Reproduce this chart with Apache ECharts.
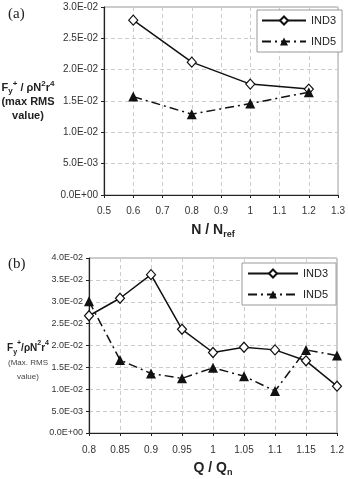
<!DOCTYPE html>
<html>
<head>
<meta charset="utf-8">
<script src="https://cdn.jsdelivr.net/npm/echarts@6/dist/echarts.min.js"></script>
<style>
  html, body { margin: 0; padding: 0; background: #fff; }
  #chart { width: 348px; height: 479px; }
</style>
</head>
<body>
<div id="chart"></div>
<script>
// (a) 转速比
const nRatio = [0.6, 0.8, 1.0, 1.2]
const aInd3 = [0.0279, 0.0212, 0.0177, 0.0169]
const aInd5 = [0.0157, 0.0129, 0.0146, 0.0164]

// (b) 流量比
const qRatio = ['0.8', '0.85', '0.9', '0.95', '1', '1.05', '1.1', '1.15', '1.2']
const bInd3 = [0.0268, 0.0308, 0.0362, 0.0237, 0.0184, 0.0196, 0.0190, 0.0165, 0.0107]
const bInd5 = [0.0301, 0.0167, 0.0136, 0.0125, 0.0149, 0.0130, 0.0096, 0.0190, 0.0177]

const font = 'Liberation Sans, Arial, sans-serif'

// 科学计数法标签 3.0E-02
const sciFmt = v => {
  const s = Number(v).toExponential(1).toUpperCase()
  return s.replace(/E([+-])(\d)$/, 'E$10$2')
}

const ind3Style = {
  type: 'line',
  symbol: 'diamond',
  symbolSize: [9, 10],
  lineStyle: {color: '#111', width: 1.5, type: 'solid'},
  itemStyle: {color: '#fff', borderColor: '#111', borderWidth: 1.2},
  z: 3
}
const ind5Style = {
  type: 'line',
  symbol: 'triangle',
  symbolSize: 10,
  lineStyle: {color: '#111', width: 1.5, type: [9, 4, 2, 4]},
  itemStyle: {color: '#111'},
  z: 4
}

const labelColor = '#333'
const splitLine = {show: true, lineStyle: {color: '#ccc', type: [4, 3]}}
const axisLine = {show: true, lineStyle: {color: '#222', width: 1.2}}
const axisTick = {show: true, length: 3, lineStyle: {color: '#222'}}

const legendBase = {
  orient: 'vertical',
  backgroundColor: '#fff',
  borderColor: '#999',
  borderWidth: 1,
  itemHeight: 10,
  itemGap: 10,
  textStyle: {color: '#222', fontSize: 11, fontFamily: font},
  data: ['IND3', 'IND5']
}

const chart = echarts.init(document.getElementById('chart'))
chart.setOption({
  animation: false,
  grid: [
    {left: 104, top: 7, width: 237, height: 188, show: true, borderColor: '#999', borderWidth: 1},
    {left: 89, top: 258, width: 248, height: 175, show: true, borderColor: '#999', borderWidth: 1}
  ],
  legend: [
    Object.assign({left: 257, top: 10, itemWidth: 44, padding: [5, 6, 5, 4]}, legendBase),
    Object.assign({left: 242, top: 263, itemWidth: 50, padding: [5, 8, 5, 5]}, legendBase)
  ],
  xAxis: [
    {
      gridIndex: 0, type: 'value', min: 0.5, max: 1.3, interval: 0.1,
      axisLine, axisTick,
      axisLabel: {formatter: v => String(parseFloat(v.toFixed(2))), margin: 11, color: labelColor, fontSize: 10, fontFamily: font},
      splitLine
    },
    {
      gridIndex: 1, type: 'category', boundaryGap: false, data: qRatio,
      axisLine, axisTick,
      axisLabel: {margin: 12, interval: 0, color: labelColor, fontSize: 10, fontFamily: font},
      splitLine: Object.assign({interval: 0}, splitLine)
    }
  ],
  yAxis: [
    {
      gridIndex: 0, type: 'value', min: 0, max: 0.03, interval: 0.005,
      axisLine, axisTick,
      axisLabel: {formatter: sciFmt, margin: 6, color: labelColor, fontSize: 10, fontFamily: font},
      splitLine
    },
    {
      gridIndex: 1, type: 'value', min: 0, max: 0.04, interval: 0.005,
      axisLine, axisTick,
      axisLabel: {formatter: sciFmt, margin: 6, color: labelColor, fontSize: 9, fontFamily: font},
      splitLine
    }
  ],
  series: [
    Object.assign({name: 'IND3', xAxisIndex: 0, yAxisIndex: 0, data: nRatio.map((x, i) => [x, aInd3[i]])}, ind3Style),
    Object.assign({name: 'IND5', xAxisIndex: 0, yAxisIndex: 0, data: nRatio.map((x, i) => [x, aInd5[i]])}, ind5Style),
    Object.assign({name: 'IND3', xAxisIndex: 1, yAxisIndex: 1, data: bInd3}, ind3Style),
    Object.assign({name: 'IND5', xAxisIndex: 1, yAxisIndex: 1, data: bInd5}, ind5Style)
  ],
  graphic: [
    {type: 'text', left: 8, top: 7, style: {text: '(a)', font: '15px "Liberation Serif", serif', fill: '#222'}},
    {type: 'text', left: 8, top: 257, style: {text: '(b)', font: '15px "Liberation Serif", serif', fill: '#222'}},
    // (a) 纵轴标题
    {
      type: 'text', x: 28, y: 80,
      style: {
        text: '{b|F}{s|y}{p|+}{b| / ρN}{p|2}{b|r}{p|4}\n{b|(max RMS}\n{b|value)}',
        align: 'center', lineHeight: 15,
        rich: {
          b: {font: 'bold 11px "Liberation Sans", Arial', fill: '#222', lineHeight: 14},
          s: {font: 'bold 8px "Liberation Sans", Arial', fill: '#222', verticalAlign: 'bottom', padding: [6, 0, 0, 0]},
          p: {font: 'bold 8px "Liberation Sans", Arial', fill: '#222', verticalAlign: 'top', padding: [0, 0, 6, 0]}
        }
      }
    },
    // (b) 纵轴标题
    {
      type: 'text', x: 28, y: 340,
      style: {
        text: '{b|F}{s|y}{p|+}{b|/ρN}{p|2}{b|r}{p|4}\n{n|(Max. RMS}\n{n|value)}',
        align: 'center', lineHeight: 14,
        rich: {
          b: {font: 'bold 10px "Liberation Sans", Arial', fill: '#222', lineHeight: 16},
          s: {font: 'bold 7px "Liberation Sans", Arial', fill: '#222', verticalAlign: 'bottom', padding: [6, 0, 0, 0]},
          p: {font: 'bold 7px "Liberation Sans", Arial', fill: '#222', verticalAlign: 'top', padding: [0, 0, 6, 0]},
          n: {font: '8px "Liberation Sans", Arial', fill: '#444', lineHeight: 14}
        }
      }
    },
    // 横轴标题
    {
      type: 'text', x: 213, y: 222,
      style: {
        text: '{b|N / N}{s|ref}', align: 'center',
        rich: {
          b: {font: 'bold 14px "Liberation Sans", Arial', fill: '#222'},
          s: {font: 'bold 9px "Liberation Sans", Arial', fill: '#222', verticalAlign: 'bottom', padding: [8, 0, 0, 0]}
        }
      }
    },
    {
      type: 'text', x: 213, y: 460,
      style: {
        text: '{b|Q / Q}{s|n}', align: 'center',
        rich: {
          b: {font: 'bold 14px "Liberation Sans", Arial', fill: '#222'},
          s: {font: 'bold 9px "Liberation Sans", Arial', fill: '#222', verticalAlign: 'bottom', padding: [8, 0, 0, 0]}
        }
      }
    }
  ]
})
</script>
</body>
</html>
